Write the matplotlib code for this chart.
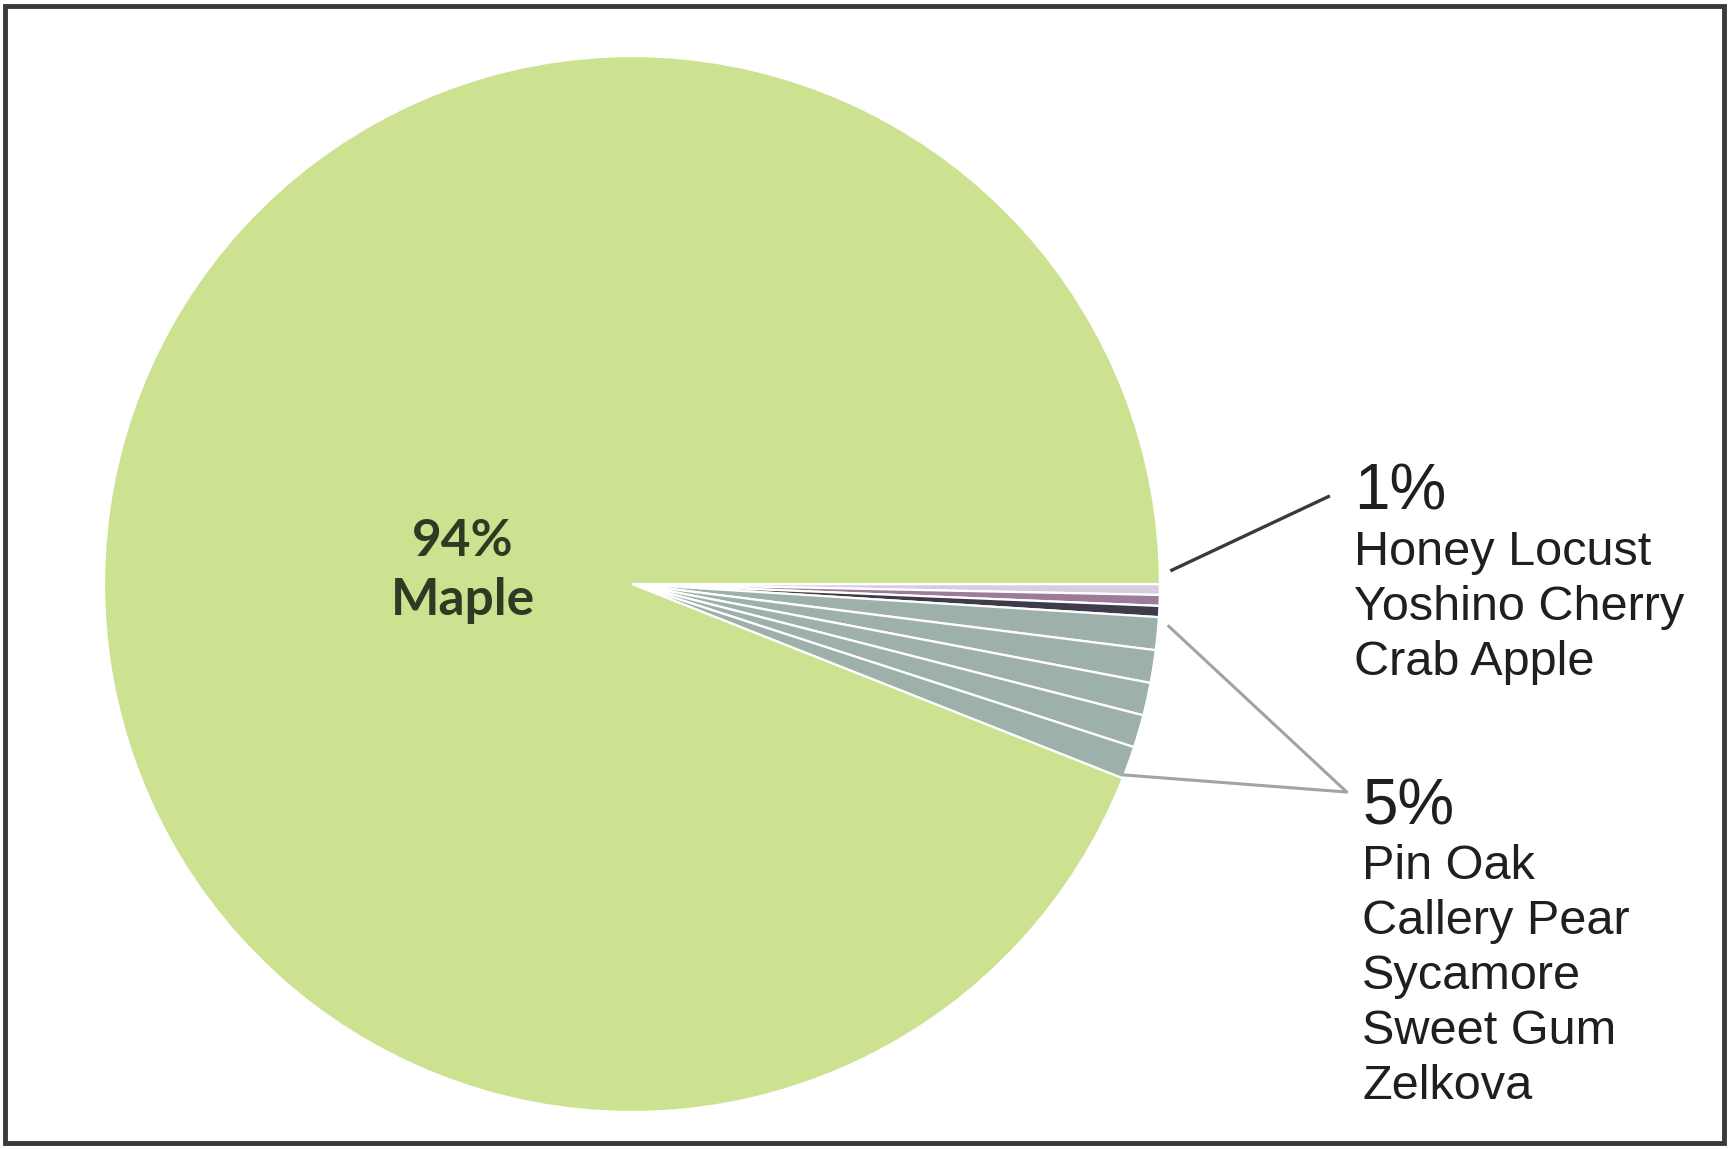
import numpy as np
import matplotlib.pyplot as plt
from matplotlib.patches import Rectangle

# share of street trees by species (percent)
species = ["Honey Locust", "Yoshino Cherry", "Crab Apple",
           "Pin Oak", "Callery Pear", "Sycamore", "Sweet Gum", "Zelkova",
           "Maple"]
shares = [0.33, 0.33, 0.34, 1, 1, 1, 1, 1, 94]
colors = ["#d8cde0", "#9c7c98", "#3e3b4a",
          "#9eb0aa", "#9eb0aa", "#9eb0aa", "#9eb0aa", "#9eb0aa",
          "#cde291"]

group_small = species[0:3]
group_mid = species[3:8]
label_small = "1%"
label_mid = "5%"
label_main = "94%\nMaple"

fig = plt.figure(figsize=(17.29, 11.49), dpi=100)
fig.patch.set_facecolor("white")

# pie centred at (632, 584) px with radius 528 px
ax = fig.add_axes([0.0601, 0.0322, 0.6108, 0.919])
wedges, _ = ax.pie(shares, colors=colors, startangle=0, counterclock=False,
                   radius=1.0, wedgeprops=dict(edgecolor="white", linewidth=1.6))
ax.set_xlim(-1, 1)
ax.set_ylim(-1, 1)
ax.set_aspect("equal")
ax.axis("off")


def polar(angle, r):
    a = np.deg2rad(angle)
    return r * np.cos(a), r * np.sin(a)


# angles of the group edges, taken from the wedges
small_top = wedges[0].theta2
small_bot = wedges[2].theta1
mid_bot = wedges[7].theta1

# leader lines
p0 = polar(small_top + 1.4, 1.02)
ax.plot([p0[0], 1.322], [p0[1], 0.167], color="#3a3a3a", lw=2.4,
        solid_capstyle="butt", clip_on=False)
p1 = polar(small_bot - 0.9, 1.02)
p2 = polar(mid_bot + 0.4, 1.0)
ax.plot([p1[0], 1.354, p2[0]], [p1[1], -0.394, p2[1]], color="#a3a3a3",
        lw=2.2, clip_on=False)

txt = dict(family="Liberation Sans", color="#1f1f1f", ha="left",
           va="baseline", clip_on=False)
step = 0.104  # one text line, in pie radii


def block(x, y_pct, y_first, pct, names):
    ax.text(x, y_pct, pct, fontsize=46, **txt)
    for i, name in enumerate(names):
        ax.text(x, y_first - i * step, name, fontsize=35, **txt)


block(1.367, 0.142, 0.036, label_small, group_small)
block(1.383, -0.456, -0.559, label_mid, group_mid)

ax.text(-0.32, 0.025, label_main, fontsize=37, fontweight="bold",
        family="Lato", color="#2f3a22", ha="center", va="center",
        linespacing=1.3)

# dark frame around the whole picture
fig.patches.append(Rectangle((0.003, 0.005), 0.994, 0.99, transform=fig.transFigure,
                             fill=False, edgecolor="#3a3a3a", lw=3.5))

fig.savefig("out.png", dpi=100)
